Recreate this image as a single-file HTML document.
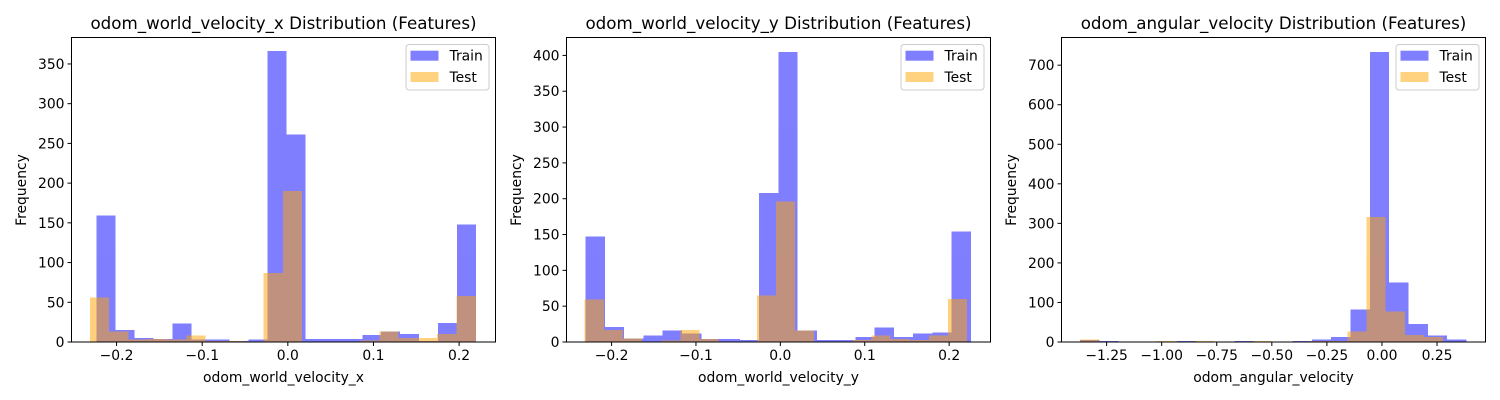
<!DOCTYPE html>
<html><head><meta charset="utf-8"><style>
body{margin:0;background:#fff;}
svg{display:block;font-family:"DejaVu Sans","Liberation Sans",sans-serif;}
</style></head><body>
<svg id="chart" width="1500" height="400" viewBox="0 0 1500 400"></svg>
<script>
// Panel 1: odom_world_velocity_x
const p1Train = [159,15,5,4,23,3,3,1,3,366,261,4,4,4,9,13,10,1,24,148];
const p1Test = [56,13,3,4,3,8,1,1,0,87,190,0,0,0,2,13,5,5,10,58];
const p1TrainRange = [-0.2234,0.2199];
const p1TestRange = [-0.2312,0.2195];
const p1XTicks = [-0.2,-0.1,0.0,0.1,0.2];
const p1XTickLabels = ["−0.2","−0.1","0.0","0.1","0.2"];
const p1YTicks = [0,50,100,150,200,250,300,350];
// Panel 2: odom_world_velocity_y
const p2Train = [147,21,5,9,16,12,4,4,3,208,405,16,3,3,7,20,7,12,13,154];
const p2Test = [59,17,5,1,2,17,4,1,1,65,196,16,0,0,3,9,4,3,9,60];
const p2TrainRange = [-0.2307,0.2259];
const p2TestRange = [-0.2318,0.2212];
const p2XTicks = [-0.2,-0.1,0.0,0.1,0.2];
const p2XTickLabels = ["−0.2","−0.1","0.0","0.1","0.2"];
const p2YTicks = [0,50,100,150,200,250,300,350,400];
// Panel 3: odom_angular_velocity
const p3Train = [5,3,0,0,1,3,1,0,3,1,0,3,6,13,82,733,150,46,16,6];
const p3Test = [6,0,0,0,2,0,2,0,0,2,0,0,2,2,26,316,77,18,13,0];
const p3TrainRange = [-1.371,0.384];
const p3TestRange = [-1.371,0.364];
const p3XTicks = [-1.25,-1.0,-0.75,-0.5,-0.25,0,0.25];
const p3XTickLabels = ["−1.25","−1.00","−0.75","−0.50","−0.25","0.00","0.25"];
const p3YTicks = [0,100,200,300,400,500,600,700];

const NS="http://www.w3.org/2000/svg";
const svg=document.getElementById('chart');
function mk(tag,attrs,parent){const e=document.createElementNS(NS,tag);for(const k in attrs)e.setAttribute(k,attrs[k]);(parent||svg).appendChild(e);return e;}

function panel(o){
  const g=mk('g',{});
  
  
  const L=o.left,R=o.left+424,T=37.5,B=342;
  const sx=v=>L+(v-o.xmin)/(o.xmax-o.xmin)*(R-L);
  const sy=v=>B-v/o.ymax*(B-T);
  function bars(vals,range,color,nm){
    const w=(range[1]-range[0])/vals.length;
    const bg=mk('g',{fill:color,opacity:0.5},g);
    
    
    vals.forEach((v,i)=>{
      if(v<=0)return;
      const x0=sx(range[0]+i*w),x1=sx(range[0]+(i+1)*w);
      const r=mk('rect',{x:x0,y:sy(v),width:x1-x0,height:B-sy(v),'shape-rendering':'crispEdges'},bg);
      
      
    });
  }
  bars(o.train,o.trainRange,'#0000ff','train');
  bars(o.test,o.testRange,'#ffa500','test');
  const frame=mk('rect',{x:L,y:T,width:R-L,height:B-T,fill:'none',stroke:'#000','stroke-width':1},g);
  
  
  o.xticks.forEach((v,i)=>{
    const x=sx(v);
    mk('line',{x1:x,x2:x,y1:B,y2:B+4,stroke:'#000'},g);
    const t=mk('text',{x:x,y:B+18,'text-anchor':'middle','font-size':13.9},g);
    t.textContent=o.xlabels[i];
    
    
  });
  o.yticks.forEach(v=>{
    const y=sy(v);
    mk('line',{x1:L-4,x2:L,y1:y,y2:y,stroke:'#000'},g);
    const t=mk('text',{x:L-7,y:y+5,'text-anchor':'end','font-size':13.9},g);
    t.textContent=v;
    
    
  });
  const tt=mk('text',{x:(L+R)/2,y:29,'text-anchor':'middle','font-size':16.7},g);
  tt.textContent=o.title;
  
  
  const xl=mk('text',{x:(L+R)/2,y:382,'text-anchor':'middle','font-size':13.9},g);
  xl.textContent=o.xlabel;
  
  
  const yl=mk('text',{x:0,y:0,'text-anchor':'middle','font-size':13.9,transform:`translate(${o.ylabelX},190) rotate(-90)`},g);
  yl.textContent='Frequency';
  
  
  const lg=mk('g',{},g);
  
  
  mk('rect',{x:R-89.5,y:44.5,width:83,height:45.5,rx:3,fill:'#fff','fill-opacity':0.8,stroke:'#ccc'},lg);
  [['Train','#0000ff',50.7],['Test','#ffa500',72]].forEach(([n,c,y])=>{
    const e=mk('g',{},lg);
    
    
    mk('rect',{x:R-85,y:y,width:28,height:10,fill:c,'fill-opacity':0.5},e);
    const t=mk('text',{x:R-46,y:y+10,'font-size':13.9},e);
    t.textContent=n;
  });
}
panel({name:'panel-velocity-x',left:71.5,xmin:-0.2526,xmax:0.2425,ymax:383.3,train:p1Train,test:p1Test,trainRange:p1TrainRange,testRange:p1TestRange,xticks:p1XTicks,xlabels:p1XTickLabels,yticks:p1YTicks,title:'odom_world_velocity_x Distribution (Features)',xlabel:'odom_world_velocity_x',ylabelX:26});
panel({name:'panel-velocity-y',left:566.5,xmin:-0.2534,xmax:0.249,ymax:425,train:p2Train,test:p2Test,trainRange:p2TrainRange,testRange:p2TestRange,xticks:p2XTicks,xlabels:p2XTickLabels,yticks:p2YTicks,title:'odom_world_velocity_y Distribution (Features)',xlabel:'odom_world_velocity_y',ylabelX:521});
panel({name:'panel-angular-velocity',left:1061.5,xmin:-1.4548,xmax:0.47,ymax:770,train:p3Train,test:p3Test,trainRange:p3TrainRange,testRange:p3TestRange,xticks:p3XTicks,xlabels:p3XTickLabels,yticks:p3YTicks,title:'odom_angular_velocity Distribution (Features)',xlabel:'odom_angular_velocity',ylabelX:1016});
</script>
</body></html>
